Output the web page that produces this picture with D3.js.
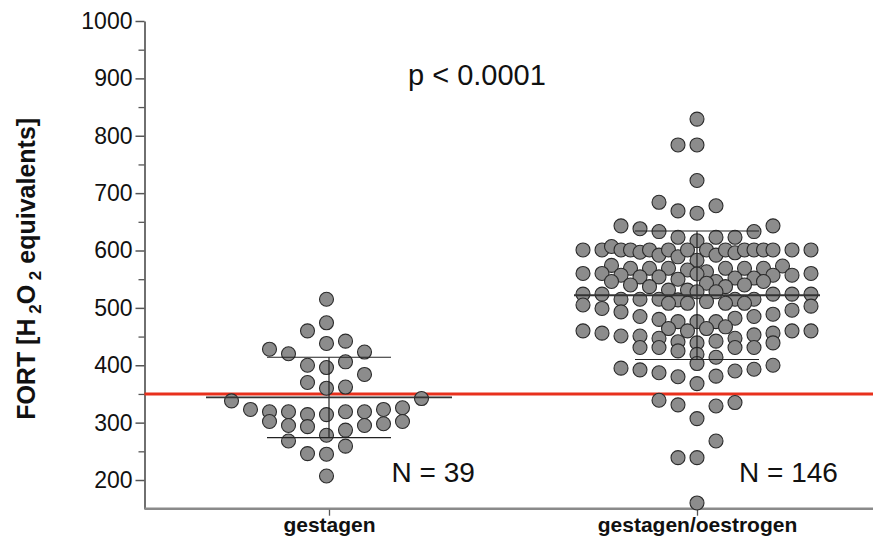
<!DOCTYPE html>
<html><head><meta charset="utf-8">
<script src="https://cdn.jsdelivr.net/npm/d3@7"></script>
<style>
body{margin:0;background:#fff}
svg{display:block}
text{font-family:"Liberation Sans",Arial,Helvetica,sans-serif}
</style>
</head><body><svg id="c" width="873" height="546"></svg>
<script>
// ---------------- data ----------------
const categories = ["gestagen", "gestagen/oestrogen"];

const gestagenValues = [515,474,460,438,442,428,420,423,400,396,406,384,370,360,362,
  338,323,319,302,319,295,314,293,314,319,287,319,295,323,298,326,302,342,
  268,278,259,246,245,207];
const gestagenSlots  = [0,0,-1,0,1,-3,-2,2,-1,0,1,2,-1,0,1,
  -5,-4,-3,-3,-2,-2,-1,-1,0,1,1,2,2,3,3,4,4,5,
  -2,0,1,-1,0,0];

const oestrogenValues = [829,784,784,722,684,669,665,678,643,638,633,633,623,617,623,623,643,
  601,601,607,601,601,597,601,592,601,589,601,583,601,592,601,596,601,601,601,601,601,601,
  574,569,569,569,566,563,569,569,569,573,
  560,560,557,554,554,550,559,546,552,552,557,557,560,
  546,540,537,531,531,543,537,540,546,
  524,524,515,515,515,514,528,528,515,515,524,524,524,
  508,508,511,508,508,
  505,499,496,503,
  493,485,480,476,476,476,482,485,489,
  464,460,464,467,
  460,456,451,451,447,441,439,442,447,453,456,460,460,
  431,431,425,419,414,431,431,439,
  395,392,387,380,368,381,390,393,400,403,
  339,331,329,335,307,268,239,239,160];
const oestrogenSlots = [0,-1,0,0,-2,-1,0,1,-4,-3,-2,3,-1,0,1,2,4,
  -6,-5,-4.5,-4,-3.5,-3,-2.5,-2,-1.5,-1,-0.5,0,0.5,1,1.5,2,2.5,3,3.5,4,5,6,
  -4.5,-3.5,-2.5,-1.5,-0.5,0.5,1.5,2.5,3.5,4.5,
  -6,-5,-4,-3,-2,-1,0,1,2,3,4,5,6,
  -4.5,-3.5,-2.5,-1.5,-0.5,0.5,1.5,2.5,3.5,
  -6,-5,-4,-3,-2,-1,0,1,2,3,4,5,6,
  -1.5,-0.5,0.5,1.5,2.5,
  -6,-5,5,6,
  -4,-3,-2,-1,0,1,2,3,4,
  -1.5,-0.5,0.5,1.5,
  -6,-5,-4,-3,-2,-1,0,1,2,3,4,5,6,
  -3,-2,-1,0,1,2,3,4,
  -4,-3,-2,-1,0,1,2,3,4,0,
  -2,-1,1,2,0,1,-1,0,0];

const groupMeans = [344, 522];
const groupSDs = [70, 112];
const groupNLabels = ["N = 39", "N = 146"];
const thresholdValue = 350;
const pLabel = "p < 0.0001";
const yMajorTicks = [200,300,400,500,600,700,800,900,1000];
const yMinorTicks = [250,350,450,550,650,750,850,950];
const yTitleParts = [["FORT [H", false], [" 2", true], ["O", false], [" 2", true], [" equivalents]", false]];

// ---------------- chart ----------------
(function () {
const svg = d3.select("#c");
const W = 873, H = 546;
const mLeft = 144.5, mRight = 873, mTop = 21, mBottom = 508.7;

const y = d3.scaleLinear().domain([150, 1000]).range([mBottom, mTop]);
const x = d3.scalePoint().domain(categories).range([329, 697]).padding(0);
const slot = d3.scaleLinear().domain([-1, 1]).range([-19, 19]);

svg.append("rect").attr("width", W).attr("height", H).attr("fill", "#fff");

// y axis major
const yAxis = svg.append("g").attr("transform", `translate(${mLeft},0)`)
  .call(d3.axisLeft(y).tickValues(yMajorTicks).tickSize(9).tickSizeOuter(0).tickPadding(3).tickFormat(d3.format("d")));
yAxis.select(".domain").attr("stroke", "#222").attr("stroke-width", 1.3);
yAxis.selectAll(".tick line").attr("stroke", "#555").attr("stroke-width", 1.5);
yAxis.selectAll(".tick text").attr("font-size", 23).attr("fill", "#111")
  .attr("font-family", '"Liberation Sans",Arial,sans-serif');

// y axis minor
const yMinor = svg.append("g").attr("transform", `translate(${mLeft},0)`)
  .call(d3.axisLeft(y).tickValues(yMinorTicks).tickSize(6).tickSizeOuter(0).tickFormat(""));
yMinor.select(".domain").remove();
yMinor.selectAll(".tick line").attr("stroke", "#555").attr("stroke-width", 1.3);

// x axis
svg.append("line").attr("x1", mLeft).attr("x2", mRight)
  .attr("y1", y(150)).attr("y2", y(150))
  .attr("stroke", "#8a8a8a").attr("stroke-width", 2.5);
const xAxis = svg.append("g").attr("transform", `translate(0,${y(150) + 1})`)
  .call(d3.axisBottom(x).tickSize(6).tickSizeOuter(0).tickPadding(1));
xAxis.select(".domain").remove();
xAxis.selectAll(".tick line").attr("stroke", "#555").attr("stroke-width", 1.3);
xAxis.selectAll(".tick text").attr("font-size", 21).attr("font-weight", "bold").attr("fill", "#111")
  .attr("font-family", '"Liberation Sans",Arial,sans-serif');

// y title
const yt = svg.append("text")
  .attr("transform", `translate(35,${(mTop + mBottom) / 2 + 4}) rotate(-90)`)
  .attr("text-anchor", "middle").attr("font-weight", "bold").attr("font-size", 25).attr("fill", "#111");
yTitleParts.forEach(([t, sub], i) => {
  const ts = yt.append("tspan").text(t);
  if (sub) ts.attr("font-size", 17).attr("dy", 6);
  else if (i > 0) ts.attr("dy", -6);
});

// threshold line
svg.append("line").attr("x1", mLeft).attr("x2", mRight)
  .attr("y1", y(thresholdValue)).attr("y2", y(thresholdValue))
  .attr("stroke", "#e8301c").attr("stroke-width", 3);

// points
const pts = [];
gestagenValues.forEach((v, i) => pts.push({cat: categories[0], v, s: gestagenSlots[i]}));
oestrogenValues.forEach((v, i) => pts.push({cat: categories[1], v, s: oestrogenSlots[i]}));

svg.append("g").selectAll("circle").data(pts).join("circle")
  .attr("cx", d => x(d.cat) + slot(d.s) - (d.cat === categories[0] ? 2.5 : 0))
  .attr("cy", d => y(d.v))
  .attr("r", 7)
  .attr("fill", "#8c8c8c")
  .attr("stroke", "#2b2b2b")
  .attr("stroke-width", 1.1);

// mean and SD lines
categories.forEach((c, i) => {
  const cx = x(c);
  const m = groupMeans[i], sd = groupSDs[i];
  const g = svg.append("g");
  g.append("line").attr("x1", cx).attr("x2", cx).attr("y1", y(m + sd)).attr("y2", y(m - sd))
    .attr("stroke", "#222").attr("stroke-width", 1.2);
  g.append("line").attr("x1", cx - 123).attr("x2", cx + 123).attr("y1", y(m)).attr("y2", y(m))
    .attr("stroke", "#333").attr("stroke-width", 1.8);
  [m + sd, m - sd].forEach(v => {
    g.append("line").attr("x1", cx - 62).attr("x2", cx + 62).attr("y1", y(v)).attr("y2", y(v))
      .attr("stroke", "#222").attr("stroke-width", 1.2);
  });
});

// annotations
svg.append("text").attr("x", 408).attr("y", 85).attr("font-size", 29).attr("fill", "#111").text(pLabel);
svg.append("text").attr("x", 391.5).attr("y", 482).attr("font-size", 28).attr("fill", "#111").text(groupNLabels[0]);
svg.append("text").attr("x", 739).attr("y", 482).attr("font-size", 28).attr("fill", "#111").text(groupNLabels[1]);
})();
</script>
</body></html>
